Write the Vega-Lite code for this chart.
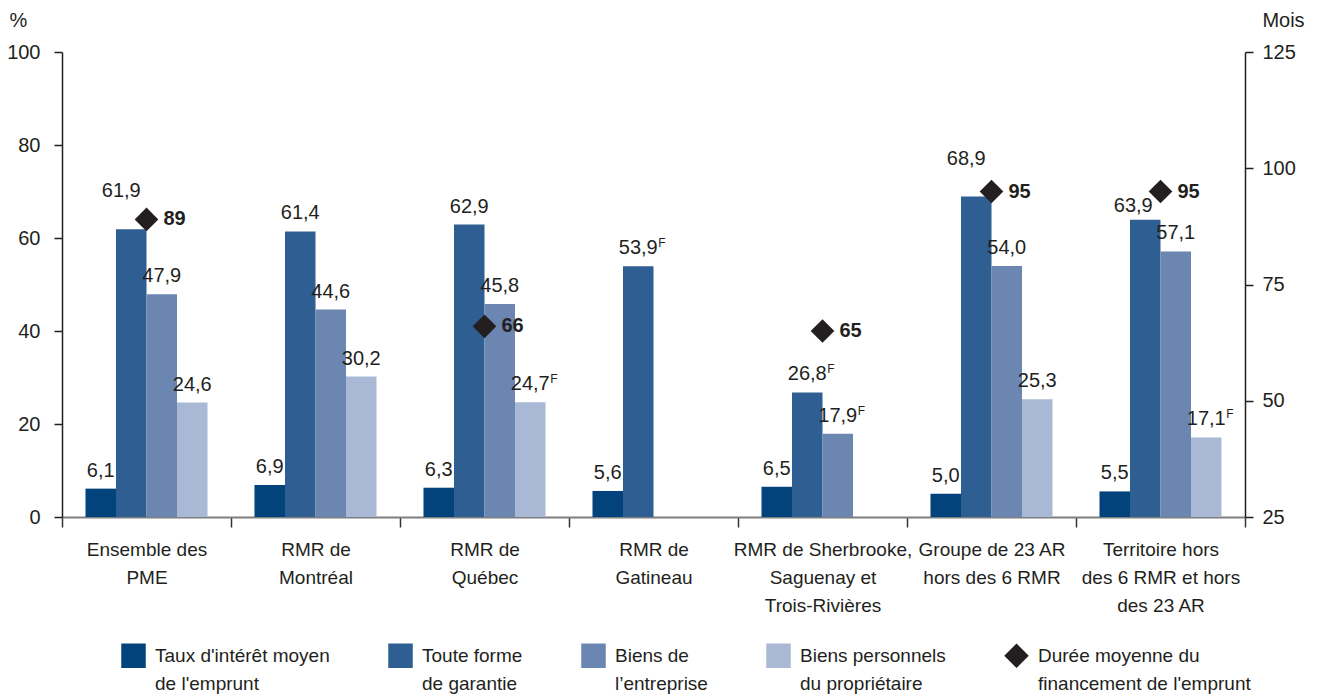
{
  "$schema": "https://vega.github.io/schema/vega-lite/v6.json",
  "width": 1183,
  "height": 465,
  "autosize": {"type": "none"},
  "padding": {"left": 62, "top": 52, "right": 75, "bottom": 183},
  "background": "white",
  "config": {
    "font": "Liberation Sans, Arial, sans-serif",
    "view": {"stroke": null},
    "locale": {"number": {"decimal": ",", "thousands": " ", "grouping": [3], "currency": ["", " $"]}},
    "style": {"guide-label": {"lineHeight": 28}},
    "axis": {"labelColor": "#231f20", "titleColor": "#231f20", "labelFontSize": 20, "titleFontSize": 20, "titleFontWeight": "normal", "grid": false}
  },
  "data": {
    "values": [
      {"region": "Ensemble des PME", "series": "Taux d'intérêt moyen de l'emprunt", "value": 6.1, "flag": ""},
      {"region": "Ensemble des PME", "series": "Toute forme de garantie", "value": 61.9, "flag": ""},
      {"region": "Ensemble des PME", "series": "Biens de l’entreprise", "value": 47.9, "flag": ""},
      {"region": "Ensemble des PME", "series": "Biens personnels du propriétaire", "value": 24.6, "flag": ""},
      {"region": "Ensemble des PME", "series": "Durée moyenne du financement de l'emprunt", "value": 89, "flag": ""},
      {"region": "RMR de Montréal", "series": "Taux d'intérêt moyen de l'emprunt", "value": 6.9, "flag": ""},
      {"region": "RMR de Montréal", "series": "Toute forme de garantie", "value": 61.4, "flag": ""},
      {"region": "RMR de Montréal", "series": "Biens de l’entreprise", "value": 44.6, "flag": ""},
      {"region": "RMR de Montréal", "series": "Biens personnels du propriétaire", "value": 30.2, "flag": ""},
      {"region": "RMR de Québec", "series": "Taux d'intérêt moyen de l'emprunt", "value": 6.3, "flag": ""},
      {"region": "RMR de Québec", "series": "Toute forme de garantie", "value": 62.9, "flag": ""},
      {"region": "RMR de Québec", "series": "Biens de l’entreprise", "value": 45.8, "flag": ""},
      {"region": "RMR de Québec", "series": "Biens personnels du propriétaire", "value": 24.7, "flag": "F"},
      {"region": "RMR de Québec", "series": "Durée moyenne du financement de l'emprunt", "value": 66, "flag": ""},
      {"region": "RMR de Gatineau", "series": "Taux d'intérêt moyen de l'emprunt", "value": 5.6, "flag": ""},
      {"region": "RMR de Gatineau", "series": "Toute forme de garantie", "value": 53.9, "flag": "F"},
      {"region": "RMR de Sherbrooke, Saguenay et Trois-Rivières", "series": "Taux d'intérêt moyen de l'emprunt", "value": 6.5, "flag": ""},
      {"region": "RMR de Sherbrooke, Saguenay et Trois-Rivières", "series": "Toute forme de garantie", "value": 26.8, "flag": "F"},
      {"region": "RMR de Sherbrooke, Saguenay et Trois-Rivières", "series": "Biens de l’entreprise", "value": 17.9, "flag": "F"},
      {"region": "RMR de Sherbrooke, Saguenay et Trois-Rivières", "series": "Durée moyenne du financement de l'emprunt", "value": 65, "flag": ""},
      {"region": "Groupe de 23 AR hors des 6 RMR", "series": "Taux d'intérêt moyen de l'emprunt", "value": 5.0, "flag": ""},
      {"region": "Groupe de 23 AR hors des 6 RMR", "series": "Toute forme de garantie", "value": 68.9, "flag": ""},
      {"region": "Groupe de 23 AR hors des 6 RMR", "series": "Biens de l’entreprise", "value": 54.0, "flag": ""},
      {"region": "Groupe de 23 AR hors des 6 RMR", "series": "Biens personnels du propriétaire", "value": 25.3, "flag": ""},
      {"region": "Groupe de 23 AR hors des 6 RMR", "series": "Durée moyenne du financement de l'emprunt", "value": 95, "flag": ""},
      {"region": "Territoire hors des 6 RMR et hors des 23 AR", "series": "Taux d'intérêt moyen de l'emprunt", "value": 5.5, "flag": ""},
      {"region": "Territoire hors des 6 RMR et hors des 23 AR", "series": "Toute forme de garantie", "value": 63.9, "flag": ""},
      {"region": "Territoire hors des 6 RMR et hors des 23 AR", "series": "Biens de l’entreprise", "value": 57.1, "flag": ""},
      {"region": "Territoire hors des 6 RMR et hors des 23 AR", "series": "Biens personnels du propriétaire", "value": 17.1, "flag": "F"},
      {"region": "Territoire hors des 6 RMR et hors des 23 AR", "series": "Durée moyenne du financement de l'emprunt", "value": 95, "flag": ""}
    ]
  },
  "encoding": {
    "x": {
      "field": "region",
      "type": "nominal",
      "sort": ["Ensemble des PME", "RMR de Montréal", "RMR de Québec", "RMR de Gatineau", "RMR de Sherbrooke, Saguenay et Trois-Rivières", "Groupe de 23 AR hors des 6 RMR", "Territoire hors des 6 RMR et hors des 23 AR"],
      "scale": {"paddingInner": 0, "paddingOuter": 0},
      "axis": {
        "title": null,
        "labelAngle": 0,
        "labelPadding": 13,
        "labelFontSize": 19,
        "labelLineHeight": 28,
        "labelLimit": 400,
        "tickBand": "extent",
        "tickSize": 10,
        "tickColor": "#333333",
        "tickWidth": 1.5,
        "domainColor": "#7f7f7f",
        "domainWidth": 2,
        "labelExpr": "datum.label == 'Ensemble des PME' ? ['Ensemble des', 'PME'] : datum.label == 'RMR de Montréal' ? ['RMR de', 'Montréal'] : datum.label == 'RMR de Québec' ? ['RMR de', 'Québec'] : datum.label == 'RMR de Gatineau' ? ['RMR de', 'Gatineau'] : datum.label == 'RMR de Sherbrooke, Saguenay et Trois-Rivières' ? ['RMR de Sherbrooke,', 'Saguenay et', 'Trois-Rivières'] : datum.label == 'Groupe de 23 AR hors des 6 RMR' ? ['Groupe de 23 AR', 'hors des 6 RMR'] : datum.label == 'Territoire hors des 6 RMR et hors des 23 AR' ? ['Territoire hors', 'des 6 RMR et hors', 'des 23 AR'] : ''"
      }
    }
  },
  "layer": [
    {
      "transform": [{"filter": "datum.series != \"Durée moyenne du financement de l'emprunt\""}],
      "encoding": {
        "xOffset": {
          "field": "series",
          "type": "nominal",
          "sort": ["Taux d'intérêt moyen de l'emprunt", "Toute forme de garantie", "Biens de l’entreprise", "Biens personnels du propriétaire"],
          "scale": {"domain": ["Taux d'intérêt moyen de l'emprunt", "Toute forme de garantie", "Biens de l’entreprise", "Biens personnels du propriétaire"], "paddingInner": 0, "paddingOuter": 0.77}
        },
        "y": {
          "field": "value",
          "type": "quantitative",
          "scale": {"domain": [0, 100], "nice": false, "zero": true},
          "axis": {
            "values": [0, 20, 40, 60, 80, 100],
            "tickSize": 8,
            "tickColor": "#231f20",
            "tickWidth": 1.5,
            "domainColor": "#231f20",
            "domainWidth": 1.5,
            "labelPadding": 14,
            "title": "%",
            "titleAngle": 0,
            "titleX": -44,
            "titleY": -32,
            "titleAlign": "center",
            "titleBaseline": "middle"
          }
        }
      },
      "layer": [
        {
          "mark": {"type": "bar"},
          "encoding": {
            "color": {
              "field": "series",
              "type": "nominal",
              "scale": {
                "domain": ["Taux d'intérêt moyen de l'emprunt", "Toute forme de garantie", "Biens de l’entreprise", "Biens personnels du propriétaire", "Durée moyenne du financement de l'emprunt"],
                "range": ["#03437b", "#2e5e92", "#6a86b1", "#a9b8d4", "#231f20"]
              },
              "legend": {
                "title": null,
                "orient": "none",
                "legendX": 59,
                "legendY": 591,
                "direction": "horizontal",
                "columns": 5,
                "columnPadding": 58,
                "labelOffset": 9,
                "symbolSize": 600,
                "symbolType": "square",
                "symbolStrokeWidth": 0,
                "labelFontSize": 19,
                "labelColor": "#231f20",
                "labelLimit": 400,
                "labelBaseline": "middle",
                "labelExpr": "datum.label == \"Taux d'intérêt moyen de l'emprunt\" ? ['Taux d\\u0027intérêt moyen', \"de l'emprunt\"] : datum.label == 'Toute forme de garantie' ? ['Toute forme', 'de garantie'] : datum.label == 'Biens de l’entreprise' ? ['Biens de', 'l’entreprise'] : datum.label == 'Biens personnels du propriétaire' ? ['Biens personnels', 'du propriétaire'] : ['Durée moyenne du', \"financement de l'emprunt\"]"
              }
            }
          }
        },
        {
          "transform": [{"filter": "!(datum.series == 'Toute forme de garantie' && (datum.region == 'Ensemble des PME' || datum.region == 'Groupe de 23 AR hors des 6 RMR' || datum.region == 'Territoire hors des 6 RMR et hors des 23 AR'))"}],
          "mark": {"type": "text", "fontSize": 20, "color": "#231f20", "baseline": "alphabetic", "dy": -12},
          "encoding": {"text": {"field": "value", "type": "quantitative", "format": ".1f"}}
        },
        {
          "transform": [{"filter": "datum.series == 'Toute forme de garantie' && (datum.region == 'Ensemble des PME' || datum.region == 'Groupe de 23 AR hors des 6 RMR')"}],
          "mark": {"type": "text", "fontSize": 20, "color": "#231f20", "baseline": "alphabetic", "dy": -32, "dx": -10},
          "encoding": {"text": {"field": "value", "type": "quantitative", "format": ".1f"}}
        },
        {
          "transform": [{"filter": "datum.series == 'Toute forme de garantie' && datum.region == 'Territoire hors des 6 RMR et hors des 23 AR'"}],
          "mark": {"type": "text", "fontSize": 20, "color": "#231f20", "baseline": "alphabetic", "dy": -8, "dx": -12},
          "encoding": {"text": {"field": "value", "type": "quantitative", "format": ".1f"}}
        },
        {
          "transform": [{"filter": "datum.flag == 'F'"}],
          "mark": {"type": "text", "fontSize": 12, "color": "#231f20", "baseline": "alphabetic", "align": "left", "dy": -19, "dx": 20},
          "encoding": {"text": {"field": "flag", "type": "nominal"}}
        }
      ]
    },
    {
      "transform": [{"filter": "datum.series == \"Durée moyenne du financement de l'emprunt\""}],
      "encoding": {
        "y": {
          "field": "value",
          "type": "quantitative",
          "scale": {"domain": [25, 125], "nice": false, "zero": false},
          "axis": {
            "orient": "right",
            "values": [25, 50, 75, 100, 125],
            "tickSize": 8,
            "tickColor": "#231f20",
            "tickWidth": 1.5,
            "domainColor": "#231f20",
            "domainWidth": 1.5,
            "labelPadding": 9,
            "title": "Mois",
            "titleAngle": 0,
            "titleX": 38,
            "titleY": -32,
            "titleAlign": "center",
            "titleBaseline": "middle"
          }
        }
      },
      "layer": [
        {
          "mark": {"type": "point", "filled": true, "size": 560, "opacity": 1},
          "encoding": {
            "color": {
              "field": "series",
              "type": "nominal",
              "scale": {
                "domain": ["Taux d'intérêt moyen de l'emprunt", "Toute forme de garantie", "Biens de l’entreprise", "Biens personnels du propriétaire", "Durée moyenne du financement de l'emprunt"],
                "range": ["#03437b", "#2e5e92", "#6a86b1", "#a9b8d4", "#231f20"]
              },
              "legend": {
                "title": null,
                "orient": "none",
                "legendX": 59,
                "legendY": 591,
                "direction": "horizontal",
                "columns": 5,
                "columnPadding": 58,
                "labelOffset": 9,
                "symbolSize": 600,
                "symbolType": "square",
                "symbolStrokeWidth": 0,
                "labelFontSize": 19,
                "labelColor": "#231f20",
                "labelLimit": 400,
                "labelBaseline": "middle",
                "labelExpr": "datum.label == \"Taux d'intérêt moyen de l'emprunt\" ? ['Taux d\\u0027intérêt moyen', \"de l'emprunt\"] : datum.label == 'Toute forme de garantie' ? ['Toute forme', 'de garantie'] : datum.label == 'Biens de l’entreprise' ? ['Biens de', 'l’entreprise'] : datum.label == 'Biens personnels du propriétaire' ? ['Biens personnels', 'du propriétaire'] : ['Durée moyenne du', \"financement de l'emprunt\"]"
              }
            },
            "shape": {
              "field": "series",
              "type": "nominal",
              "scale": {
                "domain": ["Taux d'intérêt moyen de l'emprunt", "Toute forme de garantie", "Biens de l’entreprise", "Biens personnels du propriétaire", "Durée moyenne du financement de l'emprunt"],
                "range": ["square", "square", "square", "square", "diamond"]
              },
              "legend": {
                "title": null,
                "orient": "none",
                "legendX": 59,
                "legendY": 591,
                "direction": "horizontal",
                "columns": 5,
                "columnPadding": 58,
                "labelOffset": 9,
                "symbolSize": 600,
                "symbolType": "square",
                "symbolStrokeWidth": 0,
                "labelFontSize": 19,
                "labelColor": "#231f20",
                "labelLimit": 400,
                "labelBaseline": "middle",
                "labelExpr": "datum.label == \"Taux d'intérêt moyen de l'emprunt\" ? ['Taux d\\u0027intérêt moyen', \"de l'emprunt\"] : datum.label == 'Toute forme de garantie' ? ['Toute forme', 'de garantie'] : datum.label == 'Biens de l’entreprise' ? ['Biens de', 'l’entreprise'] : datum.label == 'Biens personnels du propriétaire' ? ['Biens personnels', 'du propriétaire'] : ['Durée moyenne du', \"financement de l'emprunt\"]"
              }
            }
          }
        },
        {
          "mark": {"type": "text", "fontSize": 20, "fontWeight": "bold", "color": "#231f20", "align": "left", "baseline": "middle", "dx": 17},
          "encoding": {"text": {"field": "value", "type": "quantitative", "format": "d"}}
        }
      ]
    }
  ],
  "resolve": {"scale": {"y": "independent"}}
}
